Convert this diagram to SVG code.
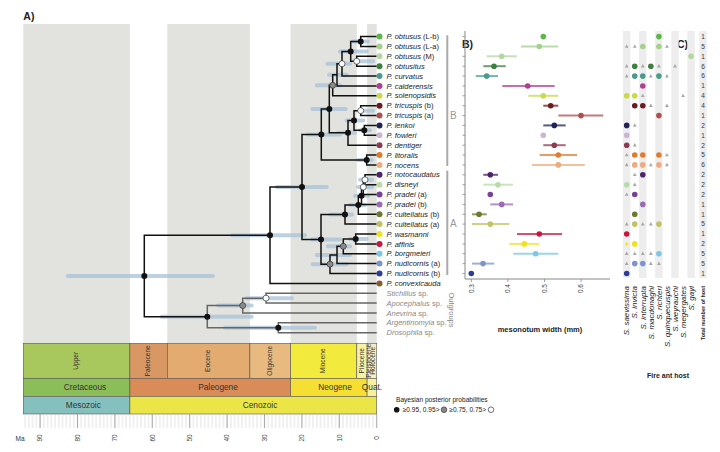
<svg xmlns="http://www.w3.org/2000/svg" width="720" height="452" viewBox="0 0 720 452">
<style>
text{font-family:"Liberation Sans",Arial,sans-serif}
.band{fill:#e2e2de}
.ci{stroke:#a7c1d8;stroke-width:4;stroke-linecap:round;opacity:.75;fill:none}
.br{fill:none;stroke:#111;stroke-width:1.5}
.og{fill:none;stroke:#666;stroke-width:1.5}
.nb{fill:#111}
.ng{fill:#8a8a8a;stroke:#333;stroke-width:.7}
.nw{fill:#fff;stroke:#333;stroke-width:.7}
.tl{font-size:7.5px;font-style:italic;fill:#222}
.n{font-style:normal}
.ogl{font-size:7.5px;font-style:italic;fill:#888}
.ep{font-size:6.6px;fill:#333;text-anchor:middle}
.pe{font-size:8.3px;fill:#333;text-anchor:middle}
.hd{font-size:10.5px;font-weight:bold;fill:#222}
.ax{stroke:#888;stroke-width:1;fill:none}
.tk{font-size:6.5px;fill:#444;text-anchor:middle}
.bar{stroke-width:2;opacity:.75}
.cl{font-size:8px;font-style:italic;fill:#222;text-anchor:end}
.tot{font-size:6.5px;fill:#333;text-anchor:middle}
.cb{fill:#ededed}
.tri{fill:#a8a8a8}
.gs{stroke:#555;stroke-width:.6}
.grp{stroke:#aaa;stroke-width:2}
</style>
<defs>
<path id="t" d="M0,-2.1L1.9,1.3H-1.9Z"/>
<pattern id="mt" patternUnits="userSpaceOnUse" x="0.83" y="0" width="3.74" height="20"><rect x="1.57" y="0" width="0.6" height="20" fill="#cfcfcf"/></pattern>
</defs>
<rect width="720" height="452" fill="#fff"/>

<!-- background bands -->
<g id="bands">
<rect class="band" x="23.3" y="24" width="106.6" height="319.3"/>
<rect class="band" x="167.3" y="24" width="82.6" height="319.3"/>
<rect class="band" x="290.6" y="24" width="66.2" height="319.3"/>
<rect class="band" x="367.1" y="24" width="9.6" height="319.3"/>
</g>
<text class="hd" x="23.3" y="20">A)</text>

<!-- confidence bars -->
<g id="ci-bars" class="ci">
<path d="M67.7,275.95H212.7M161.7,316.7H251.7M218,305.6H251.7M246.7,298.15H291.7M225,327.75H315M232,235.2H305M276.7,186.95H326.7M308,134.5H340M312.3,109.1H345.7M316.7,85.3H340M329,74.85H346.7M327.3,63.75H350M340,51.4H366.7M353,41.55H368M356.7,61.25H373M360,110.65H373M346.7,120.5H363.3M360,130.35H370M338,132.85H355M358,159.95H372M360,179.75H372M358,187.1H372M355,195.75H368M350,205H365M330,214.55H352M312,239.4H340M350,238.95H366.7M328,246.3H350M316.7,254.95H350M312.7,264.2H346.7"/>
</g>

<!-- connectors (tree branches) -->
<g id="connectors">
<path class="br" d="M376.7,36.6H360.7V46.5H376.7"/>
<path class="br" d="M376.7,56.3H356.7V66.2H376.7"/>
<path class="br" d="M360.7,41.55H350.7V61.25H356.7"/>
<path class="br" d="M350.7,51.4H342V76.1H376.7"/>
<path class="br" d="M342,63.75H337V85.95H376.7"/>
<path class="br" d="M337,74.85H332.7V95.8H376.7"/>
<path class="br" d="M376.7,105.7H360.7V115.6H376.7"/>
<path class="br" d="M376.7,125.4H364.3V135.3H376.7"/>
<path class="br" d="M360.7,110.65H354V130.35H364.3"/>
<path class="br" d="M354,120.5H348V145.2H376.7"/>
<path class="br" d="M332.7,85.3H329.3V132.85H348"/>
<path class="br" d="M376.7,155H366.7V164.9H376.7"/>
<path class="br" d="M329.3,109.1H321.3V159.95H366.7"/>
<path class="br" d="M376.7,174.8H365V184.7H376.7"/>
<path class="br" d="M365,179.75H363.3V194.5H376.7"/>
<path class="br" d="M363.3,187.1H361.5V204.4H376.7"/>
<path class="br" d="M361.5,195.75H358.3V214.3H376.7"/>
<path class="br" d="M358.3,205H345V224.1H376.7"/>
<path class="br" d="M376.7,234H355.7V243.9H376.7"/>
<path class="br" d="M355.7,238.95H343.3V253.7H376.7"/>
<path class="br" d="M343.3,246.3H337V263.6H376.7"/>
<path class="br" d="M337,254.95H330V273.5H376.7"/>
<path class="br" d="M345,214.55H321V264.2H330"/>
<path class="br" d="M321.3,134.5H302V239.4H321"/>
<path class="br" d="M302,186.95H270V283.4H376.7"/>
<path class="og" d="M376.7,293.2H266V303.1H376.7"/>
<path class="og" d="M266,298.15H242.7V313H376.7"/>
<path class="og" d="M376.7,322.8H278.3V332.7H376.7"/>
<path class="og" d="M242.7,305.6H207.3V327.75H278.3"/>
<path class="br" d="M270,235.2H144.3V316.7H207.3"/>
</g>

<!-- node support symbols -->
<g id="nodes">
<circle class="nb" cx="360.7" cy="41.55" r="3"/>
<circle class="nw" cx="356.7" cy="61.25" r="3"/>
<circle class="nb" cx="350.7" cy="51.4" r="3"/>
<circle class="nw" cx="342" cy="63.75" r="3"/>
<circle class="ng" cx="332.7" cy="85.3" r="3"/>
<circle class="nw" cx="360.7" cy="110.65" r="3"/>
<circle class="nb" cx="364.3" cy="130.35" r="3"/>
<circle class="nb" cx="354" cy="120.5" r="3"/>
<circle class="nb" cx="348" cy="132.85" r="3"/>
<circle class="nb" cx="329.3" cy="109.1" r="3"/>
<circle class="nb" cx="366.7" cy="159.95" r="3"/>
<circle class="nb" cx="321.3" cy="134.5" r="3"/>
<circle class="nw" cx="365" cy="179.75" r="3"/>
<circle class="nw" cx="363.3" cy="187.1" r="3"/>
<circle class="nb" cx="361.5" cy="195.75" r="3"/>
<circle class="nb" cx="358.3" cy="205" r="3"/>
<circle class="nb" cx="345" cy="214.55" r="3"/>
<circle class="nb" cx="355.7" cy="238.95" r="3"/>
<circle class="ng" cx="343.3" cy="246.3" r="3"/>
<circle class="ng" cx="330" cy="264.2" r="3"/>
<circle class="nb" cx="321" cy="239.4" r="3"/>
<circle class="nb" cx="302" cy="186.95" r="3"/>
<circle class="nb" cx="270" cy="235.2" r="3"/>
<circle class="nw" cx="266" cy="298.15" r="3"/>
<circle class="ng" cx="242.7" cy="305.6" r="3"/>
<circle class="nb" cx="278.3" cy="327.75" r="3"/>
<circle class="nb" cx="207.3" cy="316.7" r="3"/>
<circle class="nb" cx="144.3" cy="275.95" r="3"/>
</g>

<!-- tips -->
<g id="tips">
<circle cx="379.5" cy="36.6" r="3" fill="#5ab946"/><text class="tl" x="386.5" y="39.2">P. obtusus<tspan class="n"> (L-b)</tspan></text>
<circle cx="379.5" cy="46.5" r="3" fill="#a4d18c"/><text class="tl" x="386.5" y="49.1">P. obtusus<tspan class="n"> (L-a)</tspan></text>
<circle cx="379.5" cy="56.3" r="3" fill="#b3d6a3"/><text class="tl" x="386.5" y="58.9">P. obtusus<tspan class="n"> (M)</tspan></text>
<circle cx="379.5" cy="66.2" r="3" fill="#3d7f3d"/><text class="tl" x="386.5" y="68.8">P. obtusitus</text>
<circle cx="379.5" cy="76.1" r="3" fill="#4b9a8b"/><text class="tl" x="386.5" y="78.7">P. curvatus</text>
<circle cx="379.5" cy="85.95" r="3" fill="#b13e91"/><text class="tl" x="386.5" y="88.5">P. calderensis</text>
<circle cx="379.5" cy="95.8" r="3" fill="#c8d94a"/><text class="tl" x="386.5" y="98.4">P. solenopsidis</text>
<circle cx="379.5" cy="105.7" r="3" fill="#6e1a1f"/><text class="tl" x="386.5" y="108.3">P. tricuspis<tspan class="n"> (b)</tspan></text>
<circle cx="379.5" cy="115.6" r="3" fill="#ad4f4f"/><text class="tl" x="386.5" y="118.2">P. tricuspis<tspan class="n"> (a)</tspan></text>
<circle cx="379.5" cy="125.4" r="3" fill="#1e2457"/><text class="tl" x="386.5" y="128">P. lenkoi</text>
<circle cx="379.5" cy="135.3" r="3" fill="#cdb4d6"/><text class="tl" x="386.5" y="137.9">P. fowleri</text>
<circle cx="379.5" cy="145.2" r="3" fill="#8d3b52"/><text class="tl" x="386.5" y="147.8">P. dentiger</text>
<circle cx="379.5" cy="155" r="3" fill="#e07b30"/><text class="tl" x="386.5" y="157.6">P. litoralis</text>
<circle cx="379.5" cy="164.9" r="3" fill="#eeab7d"/><text class="tl" x="386.5" y="167.5">P. nocens</text>
<circle cx="379.5" cy="174.8" r="3" fill="#4d2469"/><text class="tl" x="386.5" y="177.4">P. notocaudatus</text>
<circle cx="379.5" cy="184.7" r="3" fill="#b9dba9"/><text class="tl" x="386.5" y="187.3">P. disneyi</text>
<circle cx="379.5" cy="194.5" r="3" fill="#7b3f9a"/><text class="tl" x="386.5" y="197.1">P. pradei<tspan class="n"> (a)</tspan></text>
<circle cx="379.5" cy="204.4" r="3" fill="#9b6bb5"/><text class="tl" x="386.5" y="207">P. pradei<tspan class="n"> (b)</tspan></text>
<circle cx="379.5" cy="214.3" r="3" fill="#6c7a2f"/><text class="tl" x="386.5" y="216.9">P. cultellatus<tspan class="n"> (b)</tspan></text>
<circle cx="379.5" cy="224.1" r="3" fill="#c2c265"/><text class="tl" x="386.5" y="226.7">P. cultellatus<tspan class="n"> (a)</tspan></text>
<circle cx="379.5" cy="234" r="3" fill="#f2e21c"/><text class="tl" x="386.5" y="236.6">P. wasmanni</text>
<circle cx="379.5" cy="243.9" r="3" fill="#c8163f"/><text class="tl" x="386.5" y="246.5">P. affinis</text>
<circle cx="379.5" cy="253.7" r="3" fill="#7cc6e6"/><text class="tl" x="386.5" y="256.3">P. borgmeieri</text>
<circle cx="379.5" cy="263.6" r="3" fill="#7e95cc"/><text class="tl" x="386.5" y="266.2">P. nudicornis<tspan class="n"> (a)</tspan></text>
<circle cx="379.5" cy="273.5" r="3" fill="#2c3d95"/><text class="tl" x="386.5" y="276.1">P. nudicornis<tspan class="n"> (b)</tspan></text>
<circle cx="379.5" cy="283.4" r="3" fill="#8b5a2b"/><text class="tl" x="386.5" y="286">P. convexicauda</text>
<text class="ogl" x="386.5" y="295.8">Stichillus<tspan class="n"> sp.</tspan></text>
<text class="ogl" x="386.5" y="305.7">Apocephalus<tspan class="n"> sp.</tspan></text>
<text class="ogl" x="386.5" y="315.6">Anevrina<tspan class="n"> sp.</tspan></text>
<text class="ogl" x="386.5" y="325.4">Argentinomyia<tspan class="n"> sp.</tspan></text>
<text class="ogl" x="386.5" y="335.3">Drosophila<tspan class="n"> sp.</tspan></text>
</g>

<g id="clade-bars">
<line class="grp" x1="447.3" y1="35.3" x2="447.3" y2="166"/>
<line class="grp" x1="447.3" y1="170.7" x2="447.3" y2="275"/>
<text x="450" y="118.7" font-size="10" fill="#999">B</text>
<text x="450" y="227" font-size="10" fill="#999">A</text>
<text transform="translate(448.5,310) rotate(90)" font-size="7.5" fill="#888" text-anchor="middle">Outgroups</text>
</g>

<!-- geological time scale -->
<g id="timescale">
<rect class="gs" x="23.3" y="343.3" width="106.6" height="35" fill="#a8c75d"/>
<rect class="gs" x="129.9" y="343.3" width="37.4" height="35" fill="#d99863"/>
<rect class="gs" x="167.3" y="343.3" width="82.6" height="35" fill="#e3ab70"/>
<rect class="gs" x="249.9" y="343.3" width="40.7" height="35" fill="#e8ba7f"/>
<rect class="gs" x="290.6" y="343.3" width="66.2" height="35" fill="#f3ea3e"/>
<rect class="gs" x="356.8" y="343.3" width="10.3" height="35" fill="#f8f1a2"/>
<rect class="gs" x="367.1" y="343.3" width="9.6" height="35" fill="#f5efc3"/>
<rect class="gs" x="23.3" y="378.3" width="106.6" height="18" fill="#8bbd58"/>
<rect class="gs" x="129.9" y="378.3" width="160.7" height="18" fill="#d98c58"/>
<rect class="gs" x="290.6" y="378.3" width="76.5" height="18" fill="#f6df33"/>
<rect class="gs" x="367.1" y="378.3" width="9.6" height="18" fill="#f6f0a0"/>
<rect class="gs" x="23.3" y="396.3" width="106.6" height="17.7" fill="#86c0be"/>
<rect class="gs" x="129.9" y="396.3" width="246.8" height="17.7" fill="#ece548"/>
<text class="ep" transform="translate(78.3,360.8) rotate(-90)">Upper</text>
<text class="ep" transform="translate(150.3,360.8) rotate(-90)">Paleocene</text>
<text class="ep" transform="translate(210.3,360.8) rotate(-90)">Eocene</text>
<text class="ep" transform="translate(271.9,360.8) rotate(-90)">Oligocene</text>
<text class="ep" transform="translate(325.4,360.8) rotate(-90)">Miocene</text>
<text class="ep" transform="translate(363.7,360.8) rotate(-90)">Pliocene</text>
<text class="ep" transform="translate(371.4,360.8) rotate(-90)">Pleistocene</text>
<text class="ep" transform="translate(375.2,360.8) rotate(-90)">Holocene</text>
<text class="pe" x="85" y="390.3">Cretaceous</text>
<text class="pe" x="218" y="390.3">Paleogene</text>
<text class="pe" x="335" y="390.3">Neogene</text>
<text class="pe" x="372" y="390.3">Quat.</text>
<text class="pe" x="83.3" y="408">Mesozoic</text>
<text class="pe" x="260" y="408">Cenozoic</text>
<rect x="24" y="414" width="353.5" height="14" fill="url(#mt)"/>
<path d="M376.7,414V428M339.3,414V428M301.9,414V428M264.5,414V428M227.1,414V428M189.7,414V428M152.3,414V428M114.9,414V428M77.5,414V428M40.1,414V428" stroke="#999" stroke-width=".8"/>
<text x="20" y="440.5" font-size="6.5" fill="#333" text-anchor="middle">Ma</text>
<text class="tk" transform="translate(42.4,438) rotate(-90)">90</text>
<text class="tk" transform="translate(79.8,438) rotate(-90)">80</text>
<text class="tk" transform="translate(117.2,438) rotate(-90)">70</text>
<text class="tk" transform="translate(154.6,438) rotate(-90)">60</text>
<text class="tk" transform="translate(192,438) rotate(-90)">50</text>
<text class="tk" transform="translate(229.4,438) rotate(-90)">40</text>
<text class="tk" transform="translate(266.8,438) rotate(-90)">30</text>
<text class="tk" transform="translate(304.2,438) rotate(-90)">20</text>
<text class="tk" transform="translate(341.6,438) rotate(-90)">10</text>
<text class="tk" transform="translate(379,438) rotate(-90)">0</text>
</g>

<!-- legend -->
<g id="legend">
<text x="396" y="401.5" font-size="6.6" fill="#222">Bayesian posterior probabilities</text>
<circle class="nb" cx="396.7" cy="409.7" r="2.8"/>
<text x="402.7" y="412" font-size="6.6" fill="#222">≥0.95, 0.95&gt;</text>
<circle class="ng" cx="444" cy="409.7" r="2.8"/>
<text x="449.3" y="412" font-size="6.6" fill="#222">≥0.75, 0.75&gt;</text>
<circle class="nw" cx="491" cy="409.7" r="2.8"/>
</g>

<!-- panel B -->
<g id="panel-b">
<text class="hd" x="462" y="48">B)</text>
<path class="ax" d="M465,31V279H610"/>
<path d="M462.5,36.6H465M462.5,46.5H465M462.5,56.3H465M462.5,66.2H465M462.5,76.1H465M462.5,85.95H465M462.5,95.8H465M462.5,105.7H465M462.5,115.6H465M462.5,125.4H465M462.5,135.3H465M462.5,145.2H465M462.5,155H465M462.5,164.9H465M462.5,174.8H465M462.5,184.7H465M462.5,194.5H465M462.5,204.4H465M462.5,214.3H465M462.5,224.1H465M462.5,234H465M462.5,243.9H465M462.5,253.7H465M462.5,263.6H465M462.5,273.5H465M471.3,279V282M507.9,279V282M544.5,279V282M581.1,279V282" stroke="#888" stroke-width=".8"/>
<text class="tk" style="text-anchor:end" transform="translate(473.6,284) rotate(-90)">0.3</text>
<text class="tk" style="text-anchor:end" transform="translate(510.2,284) rotate(-90)">0.4</text>
<text class="tk" style="text-anchor:end" transform="translate(546.8,284) rotate(-90)">0.5</text>
<text class="tk" style="text-anchor:end" transform="translate(583.4,284) rotate(-90)">0.6</text>
<text x="540" y="332" font-size="7.5" font-weight="bold" fill="#222" text-anchor="middle">mesonotum width (mm)</text>
<g>
<circle cx="543.3" cy="36.6" r="2.8" fill="#5ab946"/>
<line class="bar" x1="521" y1="46.5" x2="558.3" y2="46.5" stroke="#a4d18c"/><circle cx="539.3" cy="46.5" r="2.8" fill="#a4d18c"/>
<line class="bar" x1="486.7" y1="56.3" x2="516.7" y2="56.3" stroke="#b3d6a3"/><circle cx="501.7" cy="56.3" r="2.8" fill="#b3d6a3"/>
<line class="bar" x1="483.3" y1="66.2" x2="505.7" y2="66.2" stroke="#3d7f3d"/><circle cx="494" cy="66.2" r="2.8" fill="#3d7f3d"/>
<line class="bar" x1="475.7" y1="76.1" x2="498" y2="76.1" stroke="#4b9a8b"/><circle cx="486.7" cy="76.1" r="2.8" fill="#4b9a8b"/>
<line class="bar" x1="502.3" y1="85.95" x2="554.7" y2="85.95" stroke="#b13e91"/><circle cx="527.7" cy="85.95" r="2.8" fill="#b13e91"/>
<line class="bar" x1="528.3" y1="95.8" x2="558.3" y2="95.8" stroke="#c8d94a"/><circle cx="543.3" cy="95.8" r="2.8" fill="#c8d94a"/>
<line class="bar" x1="543.3" y1="105.7" x2="558.3" y2="105.7" stroke="#6e1a1f"/><circle cx="550.7" cy="105.7" r="2.8" fill="#6e1a1f"/>
<line class="bar" x1="558.3" y1="115.6" x2="603.3" y2="115.6" stroke="#ad4f4f"/><circle cx="581" cy="115.6" r="2.8" fill="#ad4f4f"/>
<line class="bar" x1="543.3" y1="125.4" x2="565.7" y2="125.4" stroke="#1e2457"/><circle cx="554.3" cy="125.4" r="2.8" fill="#1e2457"/>
<circle cx="543.3" cy="135.3" r="2.8" fill="#cdb4d6"/>
<line class="bar" x1="543.3" y1="145.2" x2="565.7" y2="145.2" stroke="#8d3b52"/><circle cx="554.3" cy="145.2" r="2.8" fill="#8d3b52"/>
<line class="bar" x1="539.7" y1="155" x2="577" y2="155" stroke="#e07b30"/><circle cx="558.3" cy="155" r="2.8" fill="#e07b30"/>
<line class="bar" x1="532" y1="164.9" x2="584.7" y2="164.9" stroke="#eeab7d"/><circle cx="558.3" cy="164.9" r="2.8" fill="#eeab7d"/>
<line class="bar" x1="483.3" y1="174.8" x2="498" y2="174.8" stroke="#4d2469"/><circle cx="490.3" cy="174.8" r="2.8" fill="#4d2469"/>
<line class="bar" x1="483.3" y1="184.7" x2="513" y2="184.7" stroke="#b9dba9"/><circle cx="498" cy="184.7" r="2.8" fill="#b9dba9"/>
<circle cx="490.3" cy="194.5" r="2.8" fill="#7b3f9a"/>
<line class="bar" x1="490.3" y1="204.4" x2="513" y2="204.4" stroke="#9b6bb5"/><circle cx="501.7" cy="204.4" r="2.8" fill="#9b6bb5"/>
<line class="bar" x1="472" y1="214.3" x2="486.7" y2="214.3" stroke="#6c7a2f"/><circle cx="479" cy="214.3" r="2.8" fill="#6c7a2f"/>
<line class="bar" x1="472" y1="224.1" x2="509.3" y2="224.1" stroke="#c2c265"/><circle cx="490.3" cy="224.1" r="2.8" fill="#c2c265"/>
<line class="bar" x1="517" y1="234" x2="562" y2="234" stroke="#c8163f"/><circle cx="539.3" cy="234" r="2.8" fill="#c8163f"/>
<line class="bar" x1="509.3" y1="243.9" x2="539.3" y2="243.9" stroke="#f2e21c"/><circle cx="524.3" cy="243.9" r="2.8" fill="#f2e21c"/>
<line class="bar" x1="513.3" y1="253.7" x2="558.3" y2="253.7" stroke="#7cc6e6"/><circle cx="535.7" cy="253.7" r="2.8" fill="#7cc6e6"/>
<line class="bar" x1="472" y1="263.6" x2="494.3" y2="263.6" stroke="#7e95cc"/><circle cx="483" cy="263.6" r="2.8" fill="#7e95cc"/>
<circle cx="471.3" cy="273.5" r="2.8" fill="#2c3d95"/>
</g>
</g>

<!-- panel C -->
<g id="panel-c">
<text class="hd" x="677" y="48">C)</text>
<rect class="cb" x="623" y="31" width="7.4" height="247"/>
<rect class="cb" x="639.1" y="31" width="7.4" height="247"/>
<rect class="cb" x="655.2" y="31" width="7.4" height="247"/>
<rect class="cb" x="671.3" y="31" width="7.4" height="247"/>
<rect class="cb" x="687.4" y="31" width="7.4" height="247"/>
<rect class="cb" x="699.3" y="31" width="7.4" height="247"/>
<g>
<circle cx="658.9" cy="36.6" r="2.8" fill="#5ab946"/>
<use href="#t" class="tri" x="626.7" y="46.5"/><use href="#t" class="tri" x="634.75" y="46.5"/><circle cx="642.8" cy="46.5" r="2.8" fill="#a4d18c"/><circle cx="658.9" cy="46.5" r="2.8" fill="#a4d18c"/><use href="#t" class="tri" x="666.95" y="46.5"/>
<circle cx="691.1" cy="56.3" r="2.8" fill="#b3d6a3"/>
<use href="#t" class="tri" x="626.7" y="66.2"/><circle cx="634.75" cy="66.2" r="2.8" fill="#3d7f3d"/><use href="#t" class="tri" x="642.8" y="66.2"/><circle cx="650.85" cy="66.2" r="2.8" fill="#3d7f3d"/><use href="#t" class="tri" x="658.9" y="66.2"/><use href="#t" class="tri" x="675" y="66.2"/>
<use href="#t" class="tri" x="626.7" y="76.1"/><circle cx="634.75" cy="76.1" r="2.8" fill="#4b9a8b"/><circle cx="642.8" cy="76.1" r="2.8" fill="#4b9a8b"/><use href="#t" class="tri" x="650.85" y="76.1"/><circle cx="658.9" cy="76.1" r="2.8" fill="#4b9a8b"/><use href="#t" class="tri" x="666.95" y="76.1"/>
<circle cx="642.8" cy="85.95" r="2.8" fill="#b13e91"/>
<circle cx="626.7" cy="95.8" r="2.8" fill="#c8d94a"/><circle cx="634.75" cy="95.8" r="2.8" fill="#c8d94a"/><use href="#t" class="tri" x="642.8" y="95.8"/><use href="#t" class="tri" x="683.05" y="95.8"/>
<circle cx="634.75" cy="105.7" r="2.8" fill="#6e1a1f"/><circle cx="642.8" cy="105.7" r="2.8" fill="#6e1a1f"/><use href="#t" class="tri" x="650.85" y="105.7"/><use href="#t" class="tri" x="666.95" y="105.7"/>
<circle cx="658.9" cy="115.6" r="2.8" fill="#ad4f4f"/>
<circle cx="626.7" cy="125.4" r="2.8" fill="#1e2457"/><use href="#t" class="tri" x="634.75" y="125.4"/>
<circle cx="626.7" cy="135.3" r="2.8" fill="#cdb4d6"/>
<circle cx="626.7" cy="145.2" r="2.8" fill="#8d3b52"/><use href="#t" class="tri" x="634.75" y="145.2"/>
<use href="#t" class="tri" x="626.7" y="155"/><circle cx="634.75" cy="155" r="2.8" fill="#e07b30"/><circle cx="642.8" cy="155" r="2.8" fill="#e07b30"/><circle cx="658.9" cy="155" r="2.8" fill="#e07b30"/><use href="#t" class="tri" x="666.95" y="155"/>
<use href="#t" class="tri" x="626.7" y="164.9"/><circle cx="634.75" cy="164.9" r="2.8" fill="#eeab7d"/><circle cx="642.8" cy="164.9" r="2.8" fill="#eeab7d"/><use href="#t" class="tri" x="650.85" y="164.9"/><circle cx="658.9" cy="164.9" r="2.8" fill="#eeab7d"/><use href="#t" class="tri" x="666.95" y="164.9"/>
<use href="#t" class="tri" x="634.75" y="174.8"/><circle cx="642.8" cy="174.8" r="2.8" fill="#4d2469"/>
<circle cx="626.7" cy="184.7" r="2.8" fill="#b9dba9"/><use href="#t" class="tri" x="634.75" y="184.7"/>
<use href="#t" class="tri" x="626.7" y="194.5"/><circle cx="634.75" cy="194.5" r="2.8" fill="#7b3f9a"/>
<circle cx="642.8" cy="204.4" r="2.8" fill="#9b6bb5"/>
<circle cx="634.75" cy="214.3" r="2.8" fill="#6c7a2f"/>
<use href="#t" class="tri" x="626.7" y="224.1"/><circle cx="634.75" cy="224.1" r="2.8" fill="#c2c265"/><use href="#t" class="tri" x="642.8" y="224.1"/><use href="#t" class="tri" x="650.85" y="224.1"/><circle cx="658.9" cy="224.1" r="2.8" fill="#c2c265"/>
<circle cx="626.7" cy="234" r="2.8" fill="#c8163f"/>
<use href="#t" x="626.7" y="243.9" fill="#f2e21c"/><circle cx="634.75" cy="243.9" r="2.8" fill="#f2e21c"/>
<use href="#t" class="tri" x="626.7" y="253.7"/><use href="#t" class="tri" x="634.75" y="253.7"/><use href="#t" class="tri" x="642.8" y="253.7"/><use href="#t" class="tri" x="650.85" y="253.7"/><circle cx="658.9" cy="253.7" r="2.8" fill="#7cc6e6"/>
<use href="#t" class="tri" x="626.7" y="263.6"/><circle cx="634.75" cy="263.6" r="2.8" fill="#7e95cc"/><circle cx="642.8" cy="263.6" r="2.8" fill="#7e95cc"/><use href="#t" class="tri" x="650.85" y="263.6"/><use href="#t" class="tri" x="658.9" y="263.6"/>
<circle cx="626.7" cy="273.5" r="2.8" fill="#2c3d95"/>
</g>
<g class="tot">
<text x="703" y="38.9">1</text><text x="703" y="48.8">5</text><text x="703" y="58.6">1</text><text x="703" y="68.5">6</text><text x="703" y="78.4">6</text><text x="703" y="88.3">1</text><text x="703" y="98.1">4</text><text x="703" y="108">4</text><text x="703" y="117.9">1</text><text x="703" y="127.7">2</text><text x="703" y="137.6">1</text><text x="703" y="147.5">2</text><text x="703" y="157.3">5</text><text x="703" y="167.2">6</text><text x="703" y="177.1">2</text><text x="703" y="187">2</text><text x="703" y="196.8">2</text><text x="703" y="206.7">1</text><text x="703" y="216.6">1</text><text x="703" y="226.4">5</text><text x="703" y="236.3">1</text><text x="703" y="246.2">2</text><text x="703" y="256">5</text><text x="703" y="265.9">5</text><text x="703" y="275.8">1</text>
</g>
<text class="cl" transform="translate(629.4,286) rotate(-90)">S. saevissima</text>
<text class="cl" transform="translate(637.45,286) rotate(-90)">S. invicta</text>
<text class="cl" transform="translate(645.5,286) rotate(-90)">S. interrupta</text>
<text class="cl" transform="translate(653.55,286) rotate(-90)">S. macdonaghi</text>
<text class="cl" transform="translate(661.6,286) rotate(-90)">S. richteri</text>
<text class="cl" transform="translate(669.65,286) rotate(-90)">S. quinquecuspis</text>
<text class="cl" transform="translate(677.7,286) rotate(-90)">S. weyrauchi</text>
<text class="cl" transform="translate(685.75,286) rotate(-90)">S. megergates</text>
<text class="cl" transform="translate(693.8,286) rotate(-90)">S. gayi</text>
<text transform="translate(705,286) rotate(-90)" font-size="5.5" font-weight="bold" fill="#222" text-anchor="end">Total number of host</text>
<text x="668" y="378" font-size="7" font-weight="bold" fill="#222" text-anchor="middle">Fire ant host</text>
</g>
</svg>
